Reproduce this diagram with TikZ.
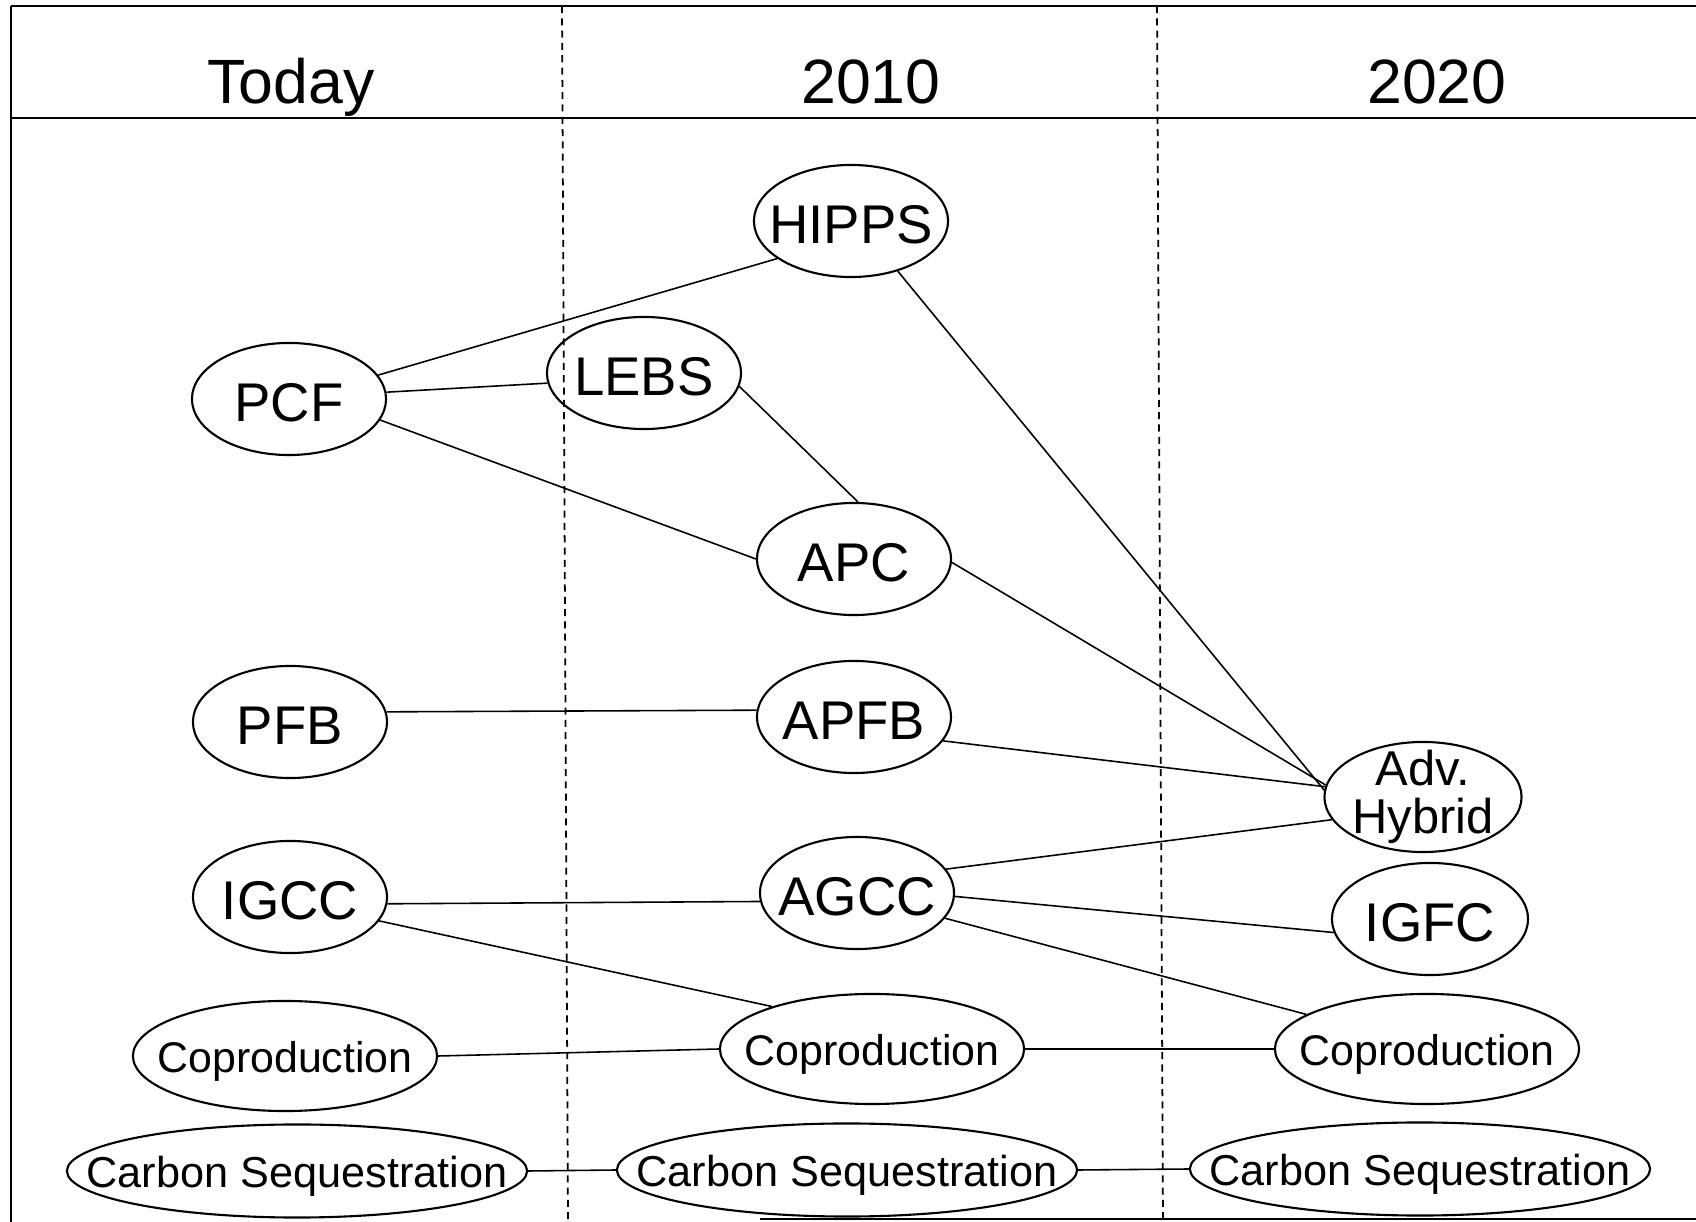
\documentclass[tikz,border=0pt]{standalone}
\usepackage{fontspec}
\setmainfont{Liberation Sans}
\usetikzlibrary{shapes.geometric}

\tikzset{
  oval/.style={ellipse, draw, line width=0.6pt, inner sep=0pt,
    minimum width=1.94cm, minimum height=1.12cm},
  wideoval/.style={oval, minimum width=3.04cm, minimum height=1.1cm},
  longoval/.style={oval, minimum width=4.6cm, minimum height=0.93cm},
  bigtext/.style={inner sep=0pt, align=center, yshift=-0.04cm, font=\fontsize{15.5}{15.5}\selectfont},
  hybridtext/.style={inner sep=0pt, align=center, font=\fontsize{13.9}{13.5}\selectfont},
  coprodtext/.style={inner sep=0pt, yshift=-0.05cm, font=\fontsize{12.2}{12.2}\selectfont},
  carbontext/.style={inner sep=0pt, yshift=-0.05cm, font=\fontsize{12.3}{12.3}\selectfont},
  year/.style={inner sep=0pt, anchor=base, font=\fontsize{17.8}{17.8}\selectfont},
  frame/.style={line width=0.8pt},
  divider/.style={line width=0.5pt, dash pattern=on 2pt off 1.5pt},
  link/.style={line width=0.45pt}
}

\begin{document}
\begin{tikzpicture}[x=0.01cm, y=-0.01cm]
\useasboundingbox (0,0) rectangle (1696,1222);

% Frame and header row
\draw[frame] (11,6) -- (1696,6);
\draw[frame] (11,6) -- (11,1222);
\draw[frame] (11,118) -- (1696,118);
\draw[frame] (760,1219) -- (1696,1219);

% Column dividers
\foreach \x/\xx in {562/568, 1157/1163}
{
    \draw[divider] (\x,6) -- (\xx,1222);
}

% Column titles
\foreach \x/\t in {291/Today, 871/2010, 1437/2020}
{
    \node[year] (head\x) at (\x,104) {\t};
}

% Today
\node[oval, label={[bigtext]center:PCF}] (pcf) at (289,399) {};
\node[oval, label={[bigtext]center:PFB}] (pfb) at (290,722) {};
\node[oval, label={[bigtext]center:IGCC}] (igcc) at (290,897) {};
\node[wideoval, label={[coprodtext]center:Coproduction}] (copl) at (285,1056) {};
\node[longoval, label={[carbontext]center:Carbon Sequestration}] (carbl) at (297,1171) {};

% 2010
\node[oval, label={[bigtext]center:HIPPS}] (hipps) at (851,221) {};
\node[oval, label={[bigtext]center:LEBS}] (lebs) at (644,373) {};
\node[oval, label={[bigtext]center:APC}] (apc) at (854,559) {};
\node[oval, label={[bigtext]center:APFB}] (apfb) at (854,717) {};
\node[oval, label={[bigtext]center:AGCC}] (agcc) at (857,893) {};
\node[wideoval, label={[coprodtext]center:Coproduction}] (copm) at (872,1049) {};
\node[longoval, label={[carbontext]center:Carbon Sequestration}] (carbm) at (847,1170) {};

% 2020
\node[oval, minimum width=1.97cm, minimum height=1.1cm,
      label={[hybridtext]center:{Adv.\\Hybrid}}] (advh) at (1423,797) {};
\node[oval, minimum width=1.96cm, label={[bigtext]center:IGFC}] (igfc) at (1430,919) {};
\node[wideoval, label={[coprodtext]center:Coproduction}] (copr) at (1427,1049) {};
\node[longoval, label={[carbontext]center:Carbon Sequestration}] (carbr) at (1420,1169) {};

% Links
\foreach \a/\b in {pcf.15/hipps.207, pcf.4/lebs.186, pcf.-13/apc.180,
    lebs.-8/apc.86, hipps.-47/advh.176, apc.-2/advh.173,
    pfb.6/apfb.176, apfb.-15/advh.174, agcc.15/advh.194,
    igcc.-4/agcc.185, igcc.-15/copm.157, agcc.-2/igfc.188,
    agcc.-16/copr.164, copl.east/copm.west, copm.east/copr.west,
    carbl.east/carbm.west, carbm.east/carbr.west}
{
    \draw[link] (\a) -- (\b);
}

\end{tikzpicture}
\end{document}
